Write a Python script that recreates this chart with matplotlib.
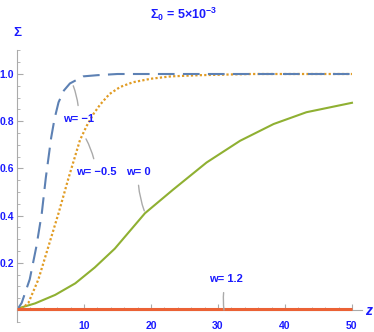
import numpy as np
import matplotlib
matplotlib.use("Agg")
import matplotlib.pyplot as plt
from matplotlib.ticker import MultipleLocator

plt.rcParams['font.family'] = ['Liberation Sans', 'DejaVu Sans']
plt.rcParams['font.weight'] = 'bold'
plt.rcParams['mathtext.fontset'] = 'custom'
plt.rcParams['mathtext.rm'] = 'Liberation Sans:bold'
plt.rcParams['mathtext.bf'] = 'Liberation Sans:bold'

# curves
z_m1 = [0, 0.7, 1.9, 2.9, 3.7, 4.3, 5.1, 5.6, 6.2, 7.0, 7.9, 9.9, 12, 15, 20, 30, 40, 50]
s_m1 = [0, 0.03, 0.13, 0.27, 0.41, 0.56, 0.73, 0.81, 0.88, 0.93, 0.96, 0.99, 0.995, 1.0, 1.0, 1.0, 1.0, 1.0]

z_m05 = [0, 0.9, 1.7, 3.2, 4.7, 6.2, 7.7, 9.4, 10.4, 11.4, 12.4, 13.8, 15.4, 17.3, 20, 23, 27.3, 35, 50]
s_m05 = [0, 0.01, 0.03, 0.13, 0.27, 0.41, 0.56, 0.72, 0.78, 0.83, 0.87, 0.915, 0.945, 0.965, 0.98, 0.99, 0.995, 1.0, 1.0]

z_0 = [0, 0.2, 2.7, 5.7, 8.7, 11.6, 14.6, 17.6, 19.1, 23.3, 28.3, 33.3, 38.3, 43.2, 50]
s_0 = [0, 0.007, 0.028, 0.064, 0.113, 0.18, 0.26, 0.36, 0.41, 0.51, 0.625, 0.717, 0.788, 0.838, 0.878]

z_12 = [0, 10, 20, 30, 40, 50]
s_12 = [0.003, 0.003, 0.003, 0.003, 0.003, 0.003]

labels = ["w= \u22121", "w= \u22120.5", "w= 0", "w= 1.2"]
label_xy = [(9.2, 0.81), (11.8, 0.585), (18.1, 0.585), (31.2, 0.13)]
point_xy = [(8.4, 0.95), (10.3, 0.725), (19.0, 0.42), (30.9, 0.0)]

blue = '#1a1aff'
grey = '#aaaaaa'

fig = plt.figure(figsize=(3.74, 3.32), dpi=100)
ax = fig.add_axes([17/374, 1 - 321.8/332, 345/374, 271.4/332])

ax.plot(z_12, s_12, color='#eb6235', lw=2.2, solid_capstyle='butt', zorder=3)
ax.plot(z_0, s_0, color='#8fb032', lw=1.5)
ax.plot(z_m05, s_m05, color='#e19c24', lw=1.6, linestyle=(0, (1, 1)))
ax.plot(z_m1, s_m1, color='#5d81b4', lw=1.5, linestyle=(0, (8, 4)))

for t, (tx, ty), (px, py) in zip(labels, label_xy, point_xy):
    ax.annotate(t, xy=(px, py), xytext=(tx, ty), ha='center', va='center',
                color=blue, fontsize=8, fontweight='bold',
                arrowprops=dict(arrowstyle='-', color=grey, lw=1,
                                shrinkA=4, shrinkB=0,
                                connectionstyle='arc3,rad=0.1'))

ax.set_xlim(0, 51.5)
ax.set_ylim(-0.05, 1.1)
for s in ['top', 'right']:
    ax.spines[s].set_visible(False)
ax.spines['left'].set_position(('data', 0))
ax.spines['bottom'].set_position(('data', 0))
ax.spines['left'].set_color(grey)
ax.spines['bottom'].set_color(grey)

ax.set_xticks([10, 20, 30, 40, 50])
ax.set_yticks([0.2, 0.4, 0.6, 0.8, 1.0])
ax.set_yticklabels(['0.2', '0.4', '0.6', '0.8', '1.0'])
ax.xaxis.set_minor_locator(MultipleLocator(2))
ax.yaxis.set_minor_locator(MultipleLocator(0.05))
ax.tick_params(which='both', direction='in', color=grey, labelcolor=blue, labelsize=7.5)
ax.tick_params(which='major', length=4)
ax.tick_params(which='minor', length=2.5)
ax.yaxis.set_tick_params(pad=2)
ax.xaxis.set_tick_params(pad=8)
for lab in ax.get_xticklabels() + ax.get_yticklabels():
    lab.set_fontweight('bold')

fig.text(183/374, 1 - 14/332, r'$\Sigma_0$' + ' = 5\u00d710' + r'$^{-3}$', color=blue,
         fontsize=9, fontweight='bold', ha='center', va='center')
fig.text(17/374, 1 - 33/332, '\u03a3', color=blue, fontsize=9.5, fontweight='bold',
         ha='center', va='center')
fig.text(369/374, 1 - 311/332, 'z', color=blue, fontsize=10, fontweight='bold',
         fontstyle='italic', ha='center', va='center')

fig.savefig('out.png', dpi=100)
